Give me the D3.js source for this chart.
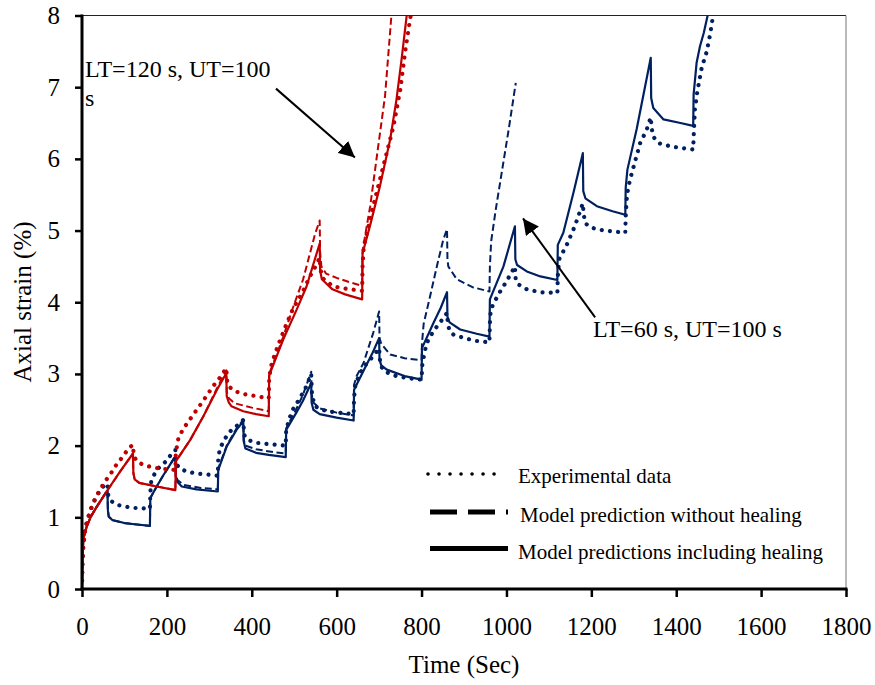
<!DOCTYPE html>
<html>
<head>
<meta charset="utf-8">
<script src="https://cdn.jsdelivr.net/npm/d3@7"></script>
<style>
  html, body { margin: 0; padding: 0; background: #fff; }
  #chart { width: 875px; height: 685px; }
  text { font-family: "Liberation Serif", "Times New Roman", serif; fill: #000; }
</style>
</head>
<body>
<div id="chart"><svg width="875" height="685"></svg></div>
<script>
// time (s), axial strain (%)
// LT=120 s, UT=100 s
var redExp = [[0,0],[1,0.35],[3,0.59],[7,0.82],[12,0.95],[23,1.15],[32,1.27],[42,1.38],[54,1.5],[66,1.59],[78,1.71],[90,1.8],[101,1.89],[113,1.98],[120,2.01],
  [122,1.86],[129,1.78],[145,1.73],[165,1.7],[184,1.68],[205,1.67],[220,1.66],
  [221,1.9],[227,2.1],[239,2.24],[262,2.43],[286,2.63],[309,2.83],[325,2.95],[340,3.08],
  [342,2.9],[347,2.82],[360,2.76],[380,2.72],[400,2.7],[420,2.68],[440,2.66],
  [441,2.95],[447,3.15],[462,3.4],[482,3.7],[498,3.92],[518,4.12],[537,4.36],[552,4.52],[560,4.62],
  [562,4.45],[568,4.33],[592,4.22],[620,4.19],[660,4.16],
  [661,4.5],[664,4.78],[686,5.34],[710,5.9],[734,6.46],[750,6.97],[761,7.48],[773,7.95],[778,8.1]];
var redHeal = [[0,0],[1,0.38],[3,0.7],[11,0.87],[20,1.0],[35,1.15],[58,1.36],[90,1.64],[120,1.89],
  [121,1.62],[124,1.53],[135,1.48],[176,1.43],[220,1.38],
  [221,1.78],[255,2.08],[286,2.41],[318,2.78],[340,3.01],
  [341,2.69],[346,2.6],[352,2.55],[380,2.48],[410,2.44],[440,2.41],
  [441,2.98],[474,3.48],[506,3.9],[529,4.22],[560,4.82],
  [561,4.45],[565,4.32],[590,4.18],[620,4.11],[660,4.04],
  [661,4.68],[680,5.1],[702,5.62],[726,6.27],[741,6.83],[753,7.39],[765,8.0],[770,8.3]];
var redNoHeal = [[0,0],[1,0.38],[3,0.7],[11,0.87],[20,1.0],[35,1.15],[58,1.36],[90,1.64],[120,1.89],
  [121,1.62],[124,1.53],[135,1.48],[176,1.43],[220,1.38],
  [221,1.78],[255,2.08],[286,2.41],[318,2.8],[340,3.05],
  [341,2.75],[346,2.66],[360,2.59],[400,2.53],[440,2.48],
  [441,3.0],[473,3.5],[498,3.94],[521,4.32],[549,4.95],[560,5.14],
  [561,4.7],[564,4.5],[575,4.4],[600,4.34],[630,4.28],[660,4.23],
  [661,4.72],[679,5.34],[698,6.18],[714,6.88],[729,8.0],[732,8.2]];

// LT=60 s, UT=100 s
var blueExp = [[0,0],[1,0.35],[3,0.59],[7,0.82],[12,0.95],[23,1.15],[32,1.27],[42,1.37],[50,1.43],[60,1.47],
  [62,1.3],[66,1.24],[80,1.18],[100,1.15],[125,1.13],[160,1.12],
  [161,1.34],[163,1.5],[172,1.62],[185,1.72],[198,1.78],[209,1.87],[220,1.94],
  [222,1.75],[230,1.68],[246,1.64],[270,1.61],[290,1.6],[320,1.58],
  [321,1.83],[325,1.96],[337,2.1],[352,2.22],[368,2.29],[380,2.36],
  [382,2.15],[390,2.08],[410,2.04],[440,2.02],[480,2.0],
  [481,2.22],[494,2.48],[506,2.59],[518,2.71],[529,2.83],[540,3.0],
  [542,2.7],[549,2.55],[565,2.5],[590,2.47],[620,2.45],[640,2.44],
  [641,2.66],[644,2.85],[655,3.01],[667,3.12],[679,3.2],[690,3.28],[700,3.36],
  [703,3.12],[714,3.03],[741,2.97],[770,2.94],[800,2.92],
  [802,3.15],[812,3.43],[828,3.6],[840,3.69],[860,3.85],
  [862,3.7],[866,3.6],[875,3.55],[900,3.5],[930,3.46],[960,3.44],
  [961,3.71],[963,3.9],[981,4.11],[1000,4.29],[1020,4.5],
  [1022,4.3],[1028,4.25],[1048,4.18],[1080,4.14],[1120,4.13],
  [1121,4.36],[1124,4.6],[1142,4.8],[1161,5.06],[1180,5.38],
  [1182,5.22],[1186,5.1],[1200,5.04],[1230,5.0],[1280,4.97],
  [1281,5.2],[1284,5.5],[1291,5.71],[1300,5.9],[1315,6.22],[1330,6.4],[1340,6.58],
  [1342,6.43],[1346,6.31],[1358,6.22],[1390,6.17],[1440,6.13],
  [1441,6.3],[1444,6.69],[1450,6.95],[1460,7.27],[1472,7.5],[1480,7.74],[1486,7.97],[1490,8.15]];
var blueHeal = [[0,0],[1,0.38],[3,0.7],[11,0.87],[20,1.0],[35,1.15],[58,1.36],[60,1.37],
  [61,1.1],[63,1.01],[72,0.96],[100,0.92],[130,0.9],[160,0.88],
  [161,1.27],[176,1.43],[192,1.59],[206,1.72],[220,1.85],
  [221,1.58],[224,1.5],[235,1.43],[270,1.39],[320,1.36],
  [321,1.66],[341,1.99],[364,2.22],[380,2.34],
  [381,2.06],[385,1.96],[410,1.9],[440,1.87],[480,1.84],
  [481,2.22],[504,2.45],[520,2.62],[540,2.87],
  [541,2.6],[545,2.5],[560,2.44],[600,2.39],[640,2.35],
  [641,2.78],[668,3.1],[685,3.3],[700,3.5],
  [701,3.2],[705,3.12],[718,3.06],[760,2.97],[800,2.92],
  [801,3.36],[828,3.71],[845,3.92],[860,4.14],
  [861,3.8],[866,3.72],[891,3.62],[930,3.56],[960,3.52],
  [961,4.04],[993,4.5],[1020,5.06],
  [1021,4.6],[1025,4.52],[1048,4.43],[1080,4.36],[1120,4.31],
  [1121,4.8],[1134,4.97],[1158,5.53],[1180,6.08],
  [1181,5.55],[1186,5.45],[1213,5.34],[1250,5.27],[1280,5.22],
  [1281,5.6],[1285,5.85],[1307,6.42],[1340,7.41],
  [1341,6.85],[1346,6.71],[1370,6.55],[1410,6.5],[1440,6.46],
  [1441,6.9],[1448,7.34],[1456,7.57],[1465,7.76],[1474,8.0],[1478,8.2]];
var blueNoHeal = [[0,0],[1,0.38],[3,0.7],[11,0.87],[20,1.0],[35,1.15],[58,1.36],[60,1.37],
  [61,1.1],[63,1.01],[72,0.96],[100,0.92],[130,0.9],[160,0.88],
  [161,1.27],[176,1.43],[192,1.59],[206,1.72],[220,1.86],
  [221,1.6],[225,1.52],[240,1.45],[280,1.41],[320,1.39],
  [321,1.68],[341,2.0],[364,2.24],[380,2.36],
  [381,2.08],[385,2.0],[410,1.95],[450,1.91],[480,1.89],
  [481,2.24],[504,2.5],[520,2.7],[540,3.03],
  [541,2.72],[545,2.6],[560,2.52],[600,2.46],[640,2.42],
  [641,2.85],[647,2.97],[663,3.15],[686,3.57],[700,3.87],
  [701,3.5],[705,3.42],[726,3.27],[760,3.22],[800,3.19],
  [801,3.43],[805,3.7],[820,4.08],[836,4.5],[851,4.87],[860,5.02],
  [861,4.6],[863,4.5],[883,4.32],[920,4.21],[960,4.15],
  [961,4.5],[964,4.85],[975,5.3],[990,5.85],[1005,6.4],[1022,7.06]];

var xTicks = [0, 200, 400, 600, 800, 1000, 1200, 1400, 1600, 1800];
var yTicks = [0, 1, 2, 3, 4, 5, 6, 7, 8];
var legendLabels = ["Experimental data", "Model prediction without healing", "Model predictions including healing"];

var StrainChart = (function () {
    function StrainChart(target) {
        this.element = document.querySelector(target);
        this.svg = d3.select(this.element).select("svg");
        this.x = d3.scaleLinear().domain([0, 1800]).range([82, 846]);
        this.y = d3.scaleLinear().domain([0, 8]).range([589, 15.5]);
    }
    StrainChart.prototype.drawAxes = function () {
        var svg = this.svg, x = this.x, y = this.y;
        // frame: thin top/right, heavy left/bottom
        svg.append("line").attr("x1", 82).attr("x2", 846).attr("y1", 15.5).attr("y2", 15.5)
            .attr("stroke", "#222").attr("stroke-width", 1);
        svg.append("line").attr("x1", 846).attr("x2", 846).attr("y1", 15.5).attr("y2", 589)
            .attr("stroke", "#777").attr("stroke-width", 1);

        var ya = svg.append("g").attr("transform", "translate(82,0)")
            .call(d3.axisLeft(y).tickValues(yTicks).tickSize(7).tickPadding(15).tickFormat(d3.format("d")));
        ya.select(".domain").remove();
        ya.selectAll(".tick line").attr("stroke", "#000").attr("stroke-width", 2.5);
        ya.selectAll(".tick text").attr("font-size", 25).attr("font-family", "Liberation Serif, Times New Roman, serif");

        var xa = svg.append("g").attr("transform", "translate(0,589)")
            .call(d3.axisBottom(x).tickValues(xTicks).tickSize(8).tickPadding(20).tickFormat(d3.format("d")));
        xa.select(".domain").remove();
        xa.selectAll(".tick line").attr("stroke", "#000").attr("stroke-width", 2.5);
        xa.selectAll(".tick text").attr("font-size", 25).attr("font-family", "Liberation Serif, Times New Roman, serif");

        svg.append("line").attr("x1", 82).attr("x2", 82).attr("y1", 14.5).attr("y2", 590.5)
            .attr("stroke", "#000").attr("stroke-width", 3);
        svg.append("line").attr("x1", 80.5).attr("x2", 847.5).attr("y1", 589).attr("y2", 589)
            .attr("stroke", "#000").attr("stroke-width", 3);

        svg.append("text").text("Time (Sec)").attr("x", 464).attr("y", 673)
            .attr("text-anchor", "middle").attr("font-size", 25);
        svg.append("text").text("Axial strain (%)").attr("transform", "translate(31,302) rotate(-90)")
            .attr("text-anchor", "middle").attr("font-size", 25);
    };
    StrainChart.prototype.drawSeries = function () {
        var svg = this.svg, x = this.x, y = this.y;
        svg.append("clipPath").attr("id", "plotClip").append("rect")
            .attr("x", 82).attr("y", 15.5).attr("width", 764).attr("height", 574);
        var line = d3.line().x(function (d) { return x(d[0]); }).y(function (d) { return y(d[1]); });
        var g = svg.append("g").attr("clip-path", "url(#plotClip)");
        var series = [
            { data: blueExp, color: "#002060", style: "dot" },
            { data: blueNoHeal, color: "#002060", style: "dash" },
            { data: blueHeal, color: "#002060", style: "solid" },
            { data: redExp, color: "#C00000", style: "dot" },
            { data: redNoHeal, color: "#C00000", style: "dash" },
            { data: redHeal, color: "#C00000", style: "solid" }
        ];
        series.forEach(function (s) {
            var p = g.append("path").attr("d", line(s.data)).attr("fill", "none")
                .attr("stroke", s.color).attr("stroke-linejoin", "round");
            if (s.style == "dot") {
                p.attr("stroke-width", 4.2).attr("stroke-linecap", "round").attr("stroke-dasharray", "0.01 8.2");
            } else if (s.style == "dash") {
                p.attr("stroke-width", 2).attr("stroke-dasharray", "7 3.5");
            } else {
                p.attr("stroke-width", 2.2);
            }
        });
    };
    StrainChart.prototype.drawNotes = function () {
        var svg = this.svg, x = this.x, y = this.y;
        var defs = svg.append("defs");
        defs.append("marker").attr("id", "head").attr("viewBox", "0 0 10 10")
            .attr("refX", 10).attr("refY", 5).attr("markerWidth", 8).attr("markerHeight", 8)
            .attr("markerUnits", "strokeWidth").attr("orient", "auto")
            .append("path").attr("d", "M0,0 L10,5 L0,10 Z").attr("fill", "#000");

        svg.append("line").attr("x1", x(457)).attr("y1", y(6.98)).attr("x2", x(643)).attr("y2", y(6.02))
            .attr("stroke", "#000").attr("stroke-width", 2).attr("marker-end", "url(#head)");
        svg.append("line").attr("x1", x(1209)).attr("y1", y(3.79)).attr("x2", x(1039)).attr("y2", y(5.17))
            .attr("stroke", "#000").attr("stroke-width", 2).attr("marker-end", "url(#head)");

        svg.append("text").text("LT=120 s, UT=100").attr("x", 85).attr("y", 77).attr("font-size", 24);
        svg.append("text").text("s").attr("x", 85).attr("y", 106).attr("font-size", 24);
        svg.append("text").text("LT=60 s, UT=100 s").attr("x", 593).attr("y", 337).attr("font-size", 24);
    };
    StrainChart.prototype.drawLegend = function () {
        var svg = this.svg;
        var lg = svg.append("g");
        lg.append("line").attr("x1", 428).attr("x2", 505).attr("y1", 474).attr("y2", 474)
            .attr("stroke", "#000").attr("stroke-width", 3.6).attr("stroke-linecap", "round")
            .attr("stroke-dasharray", "0.01 11");
        lg.append("line").attr("x1", 430).attr("x2", 508).attr("y1", 512).attr("y2", 512)
            .attr("stroke", "#000").attr("stroke-width", 5).attr("stroke-dasharray", "27 11");
        lg.append("line").attr("x1", 430).attr("x2", 508).attr("y1", 548.5).attr("y2", 548.5)
            .attr("stroke", "#000").attr("stroke-width", 5);
        var tx = [518, 520, 518], ty = [482.5, 521.5, 558.5];
        legendLabels.forEach(function (t, i) {
            lg.append("text").text(t).attr("x", tx[i]).attr("y", ty[i]).attr("font-size", 21);
        });
    };
    StrainChart.prototype.render = function () {
        this.drawSeries();
        this.drawAxes();
        this.drawNotes();
        this.drawLegend();
    };
    return StrainChart;
})();

var chart = new StrainChart("#chart");
chart.render();
</script>
</body>
</html>
